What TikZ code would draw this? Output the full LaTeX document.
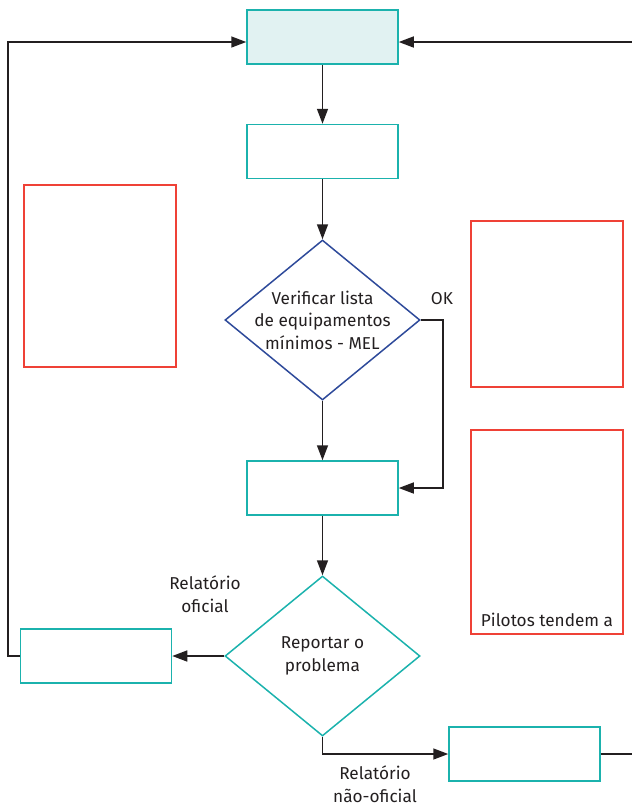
\documentclass[tikz,border=0pt]{standalone}
\usepackage{fontspec}
\setmainfont{Fira Sans}
\usetikzlibrary{shapes.geometric,arrows.meta}
\definecolor{teal1}{HTML}{1BB2AD}
\definecolor{tealfill}{HTML}{E1F2F2}
\definecolor{navy1}{HTML}{2E4A9A}
\definecolor{red1}{HTML}{EF4136}
\definecolor{ink}{HTML}{231F20}
\tikzset{
  box/.style={draw=teal1,line width=1.5pt,minimum width=151pt,minimum height=54pt,inner sep=0pt},
  redbox/.style={draw=red1,line width=1.5pt,inner sep=0pt},
  dia/.style={diamond,line width=1.5pt,minimum width=195pt,minimum height=160pt,inner sep=0pt},
  txt/.style={align=center,font=\fontsize{17.2}{22.5}\selectfont,text=ink,inner sep=0pt},
  arr/.style={draw=ink,line width=1.5pt,-{Triangle[length=15pt,width=11pt]}},
  ln/.style={draw=ink,line width=1.5pt},
}
\begin{document}
\begin{tikzpicture}[x=1pt,y=-1pt]
\useasboundingbox (0,0) rectangle (632,807);
% boxes
\node[box,fill=tealfill] (top) at (322.5,37) {};
\node[box] (b2) at (322.5,151.5) {};
\node[dia,draw=navy1] (d1) at (322.5,320) {};
\node[txt] (t1) at (d1) {Verificar lista\\de equipamentos\\mínimos - MEL};
\node[box] (b3) at (322.5,488) {};
\node[dia,draw=teal1] (d2) at (322.5,656) {};
\node[txt] (t2) at (d2) {Reportar o\\problema};
\node[box] (b4) at (96,656) {};
\node[box] (b5) at (524.5,754) {};
% red boxes
\node[redbox,minimum width=152pt,minimum height=182pt] (r1) at (100,276) {};
\node[redbox,minimum width=152pt,minimum height=166pt] (r2) at (547,304) {};
\node[redbox,minimum width=152pt,minimum height=204pt] (r3) at (547,532) {};
\node[txt] (pt) at (547,620) {Pilotos tendem a};
% labels
\node[txt] (ok) at (442,299) {OK};
\node[txt] (lo) at (205,594) {Relatório\\oficial};
\node[txt] (lno) at (375,784) {Relatório\\não-oficial};
% connectors
\draw[arr] (top.south) -- (b2.north);
\draw[arr] (b2.south) -- (d1.north);
\draw[arr] (d1.south) -- (b3.north);
\coordinate (okx) at (443,320);
\draw[arr] (d1.east) -- (okx) |- (b3.east);
\draw[arr] (b3.south) -- (d2.north);
\draw[arr] (d2.west) -- (b4.east);
\draw[arr] (d2.south) |- (b5.west);
\coordinate (lx) at (8,42);
\draw[arr] (b4.west) -| (lx) -- (lx -| top.west);
\coordinate (rx) at (632,42);
\draw[arr] (rx) -- (rx -| top.east);
\coordinate (br) at (632,754);
\draw[ln] (b5.east) -- (br);
\end{tikzpicture}
\end{document}
